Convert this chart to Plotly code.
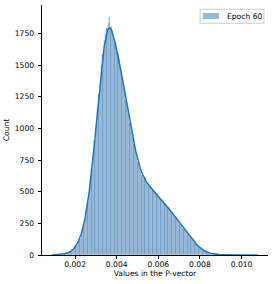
import numpy as np
import plotly.graph_objects as go

# ---- data ----
series_name = "Epoch 60"
x_label = "Values in the P-vector"
y_label = "Count"
bin_start = 0.0009
bin_width = 0.000065
counts = [
    1, 0, 1, 1, 2, 3, 4, 5, 7, 9,
    11, 14, 19, 24, 32, 42, 52, 68, 82, 101,
    125, 158, 190, 236, 290, 345, 415, 500, 585, 680,
    790, 905, 1030, 1150, 1270, 1395, 1500, 1590, 1690, 1745,
    1790, 1830, 1880, 1800, 1760, 1735, 1680, 1625, 1590, 1550,
    1480, 1415, 1335, 1285, 1225, 1180, 1105, 1045, 975, 930,
    875, 835, 775, 735, 690, 660, 630, 605, 610, 570,
    560, 550, 535, 520, 510, 505, 490, 478, 460, 455,
    442, 430, 425, 404, 391, 378, 364, 345, 336, 321,
    306, 298, 277, 263, 248, 234, 215, 206, 192, 178,
    168, 150, 136, 123, 112, 97, 84, 73, 62, 53,
    45, 37, 31, 26, 21, 17, 14, 11, 9, 8,
    7, 5, 5, 4, 3, 3, 2, 2, 1, 1,
    1, 0, 1, 0, 1, 0, 0, 1, 0, 0,
    1, 0, 0, 0, 1, 0, 0, 0, 0, 0,
    0, 1,
]
x_ticks = [0.002, 0.004, 0.006, 0.008, 0.010]
x_ticklabels = ["0.002", "0.004", "0.006", "0.008", "0.010"]
y_ticks = [0, 250, 500, 750, 1000, 1250, 1500, 1750]

# ---- derived ----
counts_arr = np.array(counts, dtype=float)
centers = bin_start + bin_width * (np.arange(len(counts)) + 0.5)
data_min = bin_start
data_max = bin_start + bin_width * len(counts)

# KDE (Gaussian kernel, Scott-like bandwidth) from the binned counts, scaled to counts
n = counts_arr.sum()
mean = (counts_arr * centers).sum() / n
std = np.sqrt((counts_arr * (centers - mean) ** 2).sum() / n)
bw = std * n ** (-1 / 5)
grid = np.linspace(data_min, data_max, 400)
dens = (counts_arr[None, :] * np.exp(-0.5 * ((grid[:, None] - centers[None, :]) / bw) ** 2)).sum(axis=1)
dens = dens / (n * bw * np.sqrt(2 * np.pi))
kde_counts = dens * n * bin_width

span = data_max - data_min
x_range = [data_min - 0.05 * span, data_max + 0.05 * span]
y_range = [0, max(counts) * 1.05]

C0 = "#1f77b4"
font = "DejaVu Sans"
fs = 7.6

fig = go.Figure()
fig.add_trace(go.Bar(
    x=centers, y=counts, width=bin_width, name=series_name, showlegend=False,
    marker=dict(color="#6f9dc6", line=dict(color="rgba(228,238,250,0.55)", width=0.35)),
))
fig.add_trace(go.Scatter(
    x=grid, y=kde_counts, mode="lines", line=dict(color=C0, width=1.5),
    showlegend=False, hoverinfo="skip",
))

axis_common = dict(
    showgrid=False, zeroline=False, showline=True, linecolor="black", linewidth=0.8,
    ticks="outside", ticklen=3.5, tickwidth=0.8, tickcolor="black",
    tickfont=dict(family=font, size=fs, color="black"),
)
fig.update_xaxes(range=x_range, tickvals=x_ticks, ticktext=x_ticklabels,
                 title=dict(text=x_label, font=dict(family=font, size=fs, color="black"), standoff=2),
                 ticklabelstandoff=-2, **axis_common)
fig.update_yaxes(range=y_range, tickvals=y_ticks,
                 title=dict(text=y_label, font=dict(family=font, size=fs, color="black"), standoff=4),
                 ticklabelstandoff=2, **axis_common)

# legend box (matplotlib style) drawn in paper coordinates
leg_box = dict(x0=0.699, x1=0.982, y0=0.927, y1=0.983)
leg_patch = dict(x0=0.712, x1=0.783, y0=0.944, y1=0.968)
fig.add_shape(type="rect", xref="paper", yref="paper", **leg_box,
              line=dict(color="#cccccc", width=1), fillcolor="rgba(255,255,255,0.8)", layer="above")
fig.add_shape(type="rect", xref="paper", yref="paper", **leg_patch,
              line=dict(width=0), fillcolor="#8fbbd9", layer="above")
fig.add_annotation(x=0.81, y=0.956, xref="paper", yref="paper", text=series_name,
                   showarrow=False, xanchor="left", yanchor="middle",
                   font=dict(family=font, size=fs, color="black"))

fig.update_layout(
    width=274, height=284,
    margin=dict(l=42, r=6, t=5, b=29),
    paper_bgcolor="white", plot_bgcolor="white",
    bargap=0,
    showlegend=False,
    font=dict(family=font, size=fs, color="black"),
)

fig.write_html("out.html", config={"displayModeBar": False},
               post_script="document.body.style.margin='0px';")
